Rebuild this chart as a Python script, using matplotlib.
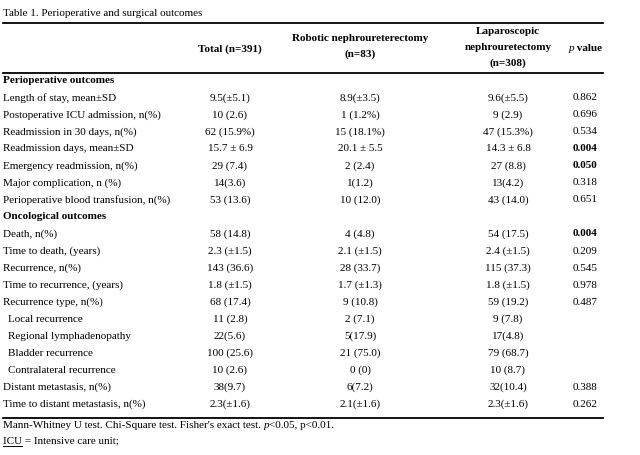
import matplotlib
matplotlib.use("Agg")
import matplotlib.pyplot as plt

plt.rcParams['font.family'] = ['Liberation Serif', 'DejaVu Serif']

# === Dane tabeli ===
title = "Table 1. Perioperative and surgical outcomes"

row_labels = [
    "Perioperative outcomes",
    "Length of stay, mean±SD",
    "Postoperative ICU admission, n(%)",
    "Readmission in 30 days, n(%)",
    "Readmission days, mean±SD",
    "Emergency readmission, n(%)",
    "Major complication, n (%)",
    "Perioperative blood transfusion, n(%)",
    "Oncological outcomes",
    "Death, n(%)",
    "Time to death, (years)",
    "Recurrence, n(%)",
    "Time to recurrence, (years)",
    "Recurrence type, n(%)",
    "Local recurrence",
    "Regional lymphadenopathy",
    "Bladder recurrence",
    "Contralateral recurrence",
    "Distant metastasis, n(%)",
    "Time to distant metastasis, n(%)",
]
row_kind = ["section", "", "", "", "", "", "", "",
            "section", "", "", "", "", "",
            "indent", "indent", "indent", "indent", "", ""]

total = ["", "9.5(±5.1)", "10 (2.6)", "62 (15.9%)", "15.7 ± 6.9", "29 (7.4)",
         "14(3.6)", "53 (13.6)", "", "58 (14.8)", "2.3 (±1.5)", "143 (36.6)",
         "1.8 (±1.5)", "68 (17.4)", "11 (2.8)", "22(5.6)", "100 (25.6)",
         "10 (2.6)", "38(9.7)", "2.3(±1.6)"]
robotic = ["", "8.9(±3.5)", "1 (1.2%)", "15 (18.1%)", "20.1 ± 5.5", "2 (2.4)",
           "1(1.2)", "10 (12.0)", "", "4 (4.8)", "2.1 (±1.5)", "28 (33.7)",
           "1.7 (±1.3)", "9 (10.8)", "2 (7.1)", "5(17.9)", "21 (75.0)",
           "0 (0)", "6(7.2)", "2.1(±1.6)"]
laparo = ["", "9.6(±5.5)", "9 (2.9)", "47 (15.3%)", "14.3 ± 6.8", "27 (8.8)",
          "13(4.2)", "43 (14.0)", "", "54 (17.5)", "2.4 (±1.5)", "115 (37.3)",
          "1.8 (±1.5)", "59 (19.2)", "9 (7.8)", "17(4.8)", "79 (68.7)",
          "10 (8.7)", "32(10.4)", "2.3(±1.6)"]
p_values = ["", "0.862", "0.696", "0.534", "0.004", "0.050", "0.318", "0.651",
            "", "0.004", "0.209", "0.545", "0.978", "0.487", "", "", "", "",
            "0.388", "0.262"]
p_bold = ["0.004", "0.050"]

header_total = ["Total (n=391)"]
header_robotic = ["Robotic nephroureterectomy", "(n=83)"]
header_laparo = ["Laparoscopic", "nephrouretectomy", "(n=308)"]

footnote_parts = [("Mann-Whitney U test. Chi-Square test. Fisher's exact test. ", "normal"),
                  ("p", "italic"), ("<0.05, p<0.01.", "normal")]
footnote2 = "ICU = Intensive care unit;"

# === Układ ===
W, H = 640, 455
fs = 8.0
col_x = [230, 360, 508, 585]
x_left, x_right = 3, 603
row_y0, row_dy = 80.7, 17.03

fig = plt.figure(figsize=(W / 100, H / 100), dpi=100)
ax = fig.add_axes([0, 0, 1, 1])
ax.set_xlim(0, W)
ax.set_ylim(H, 0)
ax.axis('off')
fig.canvas.draw()
renderer = fig.canvas.get_renderer()


def seg_text(x, y, parts, ha='left'):
    # tekst złożony z fragmentów o różnym stylu
    widths = []
    objs = []
    for s, st in parts:
        t = ax.text(0, y, s, fontsize=fs, va='center', ha='left',
                    fontstyle='italic' if 'italic' in st else 'normal',
                    fontweight='bold' if 'bold' in st else 'normal')
        bb = t.get_window_extent(renderer)
        widths.append(bb.width)
        objs.append(t)
    total_w = sum(widths)
    cx = x - total_w / 2 if ha == 'center' else x
    for t, w in zip(objs, widths):
        t.set_x(cx)
        cx += w
    return objs


ax.text(x_left, 13, title, fontsize=fs, va='center', ha='left')

# linie tabeli
ax.plot([x_left, x_right], [23, 23], color='black', lw=1.3)
ax.plot([x_left, x_right], [72.7, 72.7], color='black', lw=1.3)
ax.plot([x_left, x_right], [418, 418], color='black', lw=1.3)

# nagłówki
ax.text(col_x[0], 49.5, header_total[0], fontsize=fs, fontweight='bold', ha='center', va='center')
for i, s in enumerate(header_robotic):
    ax.text(col_x[1], 38.3 + 15.5 * i, s, fontsize=fs, fontweight='bold', ha='center', va='center')
for i, s in enumerate(header_laparo):
    ax.text(col_x[2], 31.8 + 15.8 * i, s, fontsize=fs, fontweight='bold', ha='center', va='center')
seg_text(col_x[3], 48.3, [("p", "italic"), (" value", "bold")], ha='center')

# wiersze
for i, lab in enumerate(row_labels):
    y = row_y0 + row_dy * i
    kind = row_kind[i]
    xl = x_left + (5 if kind == 'indent' else 0)
    ax.text(xl, y, lab, fontsize=fs, va='center', ha='left',
            fontweight='bold' if kind == 'section' else 'normal')
    for cx, vals in zip(col_x[:3], [total, robotic, laparo]):
        if vals[i]:
            ax.text(cx, y, vals[i], fontsize=fs, va='center', ha='center')
    if p_values[i]:
        ax.text(col_x[3], y, p_values[i], fontsize=fs, va='center', ha='center',
                fontweight='bold' if p_values[i] in p_bold else 'normal')

# przypisy
seg_text(x_left, 425.5, footnote_parts)
t = ax.text(x_left, 441, footnote2, fontsize=fs, va='center', ha='left')
t_icu = ax.text(x_left, 441, "ICU", fontsize=fs, va='center', ha='left', alpha=0)
bb = t_icu.get_window_extent(renderer)
inv = ax.transData.inverted()
(x0, y0), (x1, y1) = inv.transform([[bb.x0, bb.y0], [bb.x1, bb.y1]])
ax.plot([x0, x1], [y0 + 0.5, y0 + 0.5], color='black', lw=0.7)

fig.savefig("out.png", dpi=100)
